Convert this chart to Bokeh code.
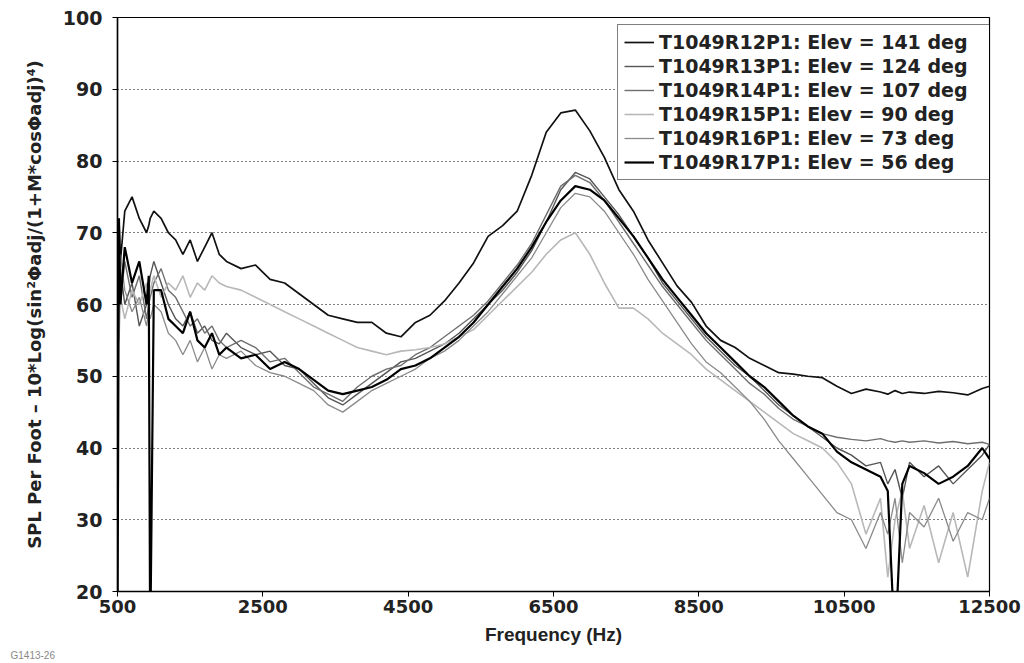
from bokeh.plotting import figure
from bokeh.models import Range1d, FixedTicker, Legend, LegendItem, Title, ColumnDataSource
from bokeh.embed import file_html
from bokeh.resources import INLINE

freq = [500, 520, 540, 600, 700, 800, 900, 930, 950, 1000,
        1100, 1200, 1300, 1400, 1500, 1600, 1700, 1800, 1900, 2000,
        2200, 2400, 2600, 2800, 3000, 3200, 3400, 3600, 3800, 4000,
        4200, 4400, 4600, 4800, 5000, 5200, 5400, 5600, 5800, 6000,
        6200, 6400, 6600, 6800, 7000, 7200, 7400, 7600, 7800, 8000,
        8200, 8400, 8600, 8800, 9000, 9200, 9400, 9600, 9800, 10000,
        10200, 10400, 10600, 10800, 11000, 11100, 11200, 11300, 11400, 11600,
        11800, 12000, 12200, 12400, 12500]

r12 = [68, 72, 66, 73, 75, 72, 70, 71, 72, 73,
       72, 70, 69, 67, 69, 66, 68, 70, 67, 66,
       65, 65.5, 63.5, 63, 61.5, 60, 58.5, 58, 57.5, 57.5,
       56, 55.5, 57.5, 58.5, 60.5, 63, 65.8, 69.5, 71, 73,
       78, 84, 86.7, 87.1, 84.2, 80.5, 76, 73, 69, 65.8,
       62.6, 60.3, 57, 55, 54, 52.5, 51.5, 50.5, 50.3, 50,
       49.8, 48.6, 47.6, 48.2, 47.8, 47.5, 48, 47.6, 47.8, 47.6,
       47.9, 47.7, 47.4, 48.3, 48.6]

r13 = [62, 58, 65, 60, 63, 57, 60, 62, 64, 66,
       63, 60, 58, 57, 59, 56, 57, 55, 54.5, 56,
       54, 53, 53.5, 51.5, 51, 49, 47, 46, 47.5, 49,
       50.5, 52, 52.5, 53.5, 54.5, 56, 58, 60, 62, 64.5,
       67.5, 71.5, 76, 78.4, 77.5, 75, 72.5, 69.5, 66.5, 63,
       60.5, 58, 55.5, 53.5, 51.5, 50, 48, 46, 44.5, 43,
       41.5, 40, 39, 37.5, 38, 35, 37, 33, 38, 36,
       37.5, 35, 37, 39, 40.5]

r14 = [58, 64, 60, 66, 61, 64, 58, 60, 61, 63,
       65, 62, 61, 59, 57, 58, 56, 57, 55, 54,
       55, 54, 52, 52.5, 50.5, 48.5, 47.5, 46.5, 48.5, 50,
       51, 51.5, 53, 54, 55.5, 57, 58.5, 60.5, 63, 65.5,
       68.5, 72.5, 76.5, 78, 77, 74.5, 71.5, 68.5, 65.5, 62.5,
       60, 57.5, 55, 53, 51, 49, 47.5, 45.5, 44, 43,
       42, 41.5, 41.2, 41, 41.3, 41, 40.8, 41, 40.8, 41,
       40.7, 40.9, 40.6, 40.8, 40.5]

r15 = [60, 55, 61, 58, 62, 60, 63, 61, 62, 64,
       61, 63, 62, 64, 61, 63, 62, 64, 63, 62.5,
       62, 61, 60, 59, 58, 57, 56, 55, 54, 53.5,
       53, 53.5, 53.7, 54, 54.5, 55.5, 56.5, 58.5, 60.5, 62.5,
       64.5, 67, 69, 70, 67, 63, 59.5, 59.5, 58, 56,
       54.5, 53, 51, 49.5, 48, 46.5, 45, 43.5, 42, 41,
       40, 38, 35, 28, 33, 22, 30, 34, 26, 32,
       24, 31, 22, 34, 38]

r16 = [65, 60, 67, 62, 59, 61, 57, 59, 58, 60,
       59, 56, 55, 53, 55, 52, 54, 51, 53, 52.5,
       53.5, 51.5, 50.5, 50, 49, 48, 46, 45, 46.5, 48,
       49, 50, 51, 52.5, 53.5, 55, 57, 59, 61.5, 64,
       66.5, 70, 73.5, 75.5, 75, 73, 70, 67, 63.5, 60.5,
       57.5, 54.5, 52, 50.5, 48.5, 46.5, 44, 41, 38.5, 36,
       33.5, 31, 30, 26, 31, 28, 33, 24, 31, 29,
       33, 27, 31, 30, 33]

r17 = [15, 72, 60, 68, 63, 66, 60, 64, 12, 62,
       62, 58, 57, 56, 59, 55, 54, 56, 53, 54,
       52.5, 53, 51, 52, 51, 49.5, 48, 47.5, 48, 48.5,
       49.5, 51, 51.5, 52.5, 54, 55.5, 57.5, 60, 62.5, 65,
       68, 71.5, 74.5, 76.5, 76, 74.5, 72, 69.5, 66.5, 63.5,
       61, 58.5, 56, 54, 52, 50, 48.5, 46.5, 44.5, 43,
       42, 39.5, 38, 37, 36, 34, 12, 35, 37.5, 36.5,
       35, 36, 37.5, 40, 38.5]

series_names = ["T1049R12P1: Elev = 141 deg", "T1049R13P1: Elev = 124 deg",
                "T1049R14P1: Elev = 107 deg", "T1049R15P1: Elev = 90 deg",
                "T1049R16P1: Elev = 73 deg", "T1049R17P1: Elev = 56 deg"]
x_ticks = [500, 2500, 4500, 6500, 8500, 10500, 12500]
y_ticks = [20, 30, 40, 50, 60, 70, 80, 90, 100]

source = ColumnDataSource(dict(freq=freq, r12=r12, r13=r13, r14=r14,
                               r15=r15, r16=r16, r17=r17))

SANS = "Liberation Sans"
WIDE = "DejaVu Sans"

p = figure(width=1024, height=663, output_backend="svg", toolbar_location=None,
           x_range=Range1d(500, 12500), y_range=Range1d(20, 100),
           min_border_left=117, min_border_right=35, min_border_top=17,
           min_border_bottom=72, background_fill_color="white",
           border_fill_color="white")
p.outline_line_color = "black"
p.outline_line_width = 1.2

styles = [("r12", "#111111", 1.7), ("r13", "#555555", 1.4), ("r14", "#6e6e6e", 1.4),
          ("r15", "#b8b8b8", 1.6), ("r16", "#8a8a8a", 1.3), ("r17", "#000000", 2.2)]
renderers = []
for col, color, w in styles:
    r = p.line("freq", col, source=source, line_color=color, line_width=w)
    renderers.append(r)

p.xaxis.ticker = FixedTicker(ticks=x_ticks)
p.yaxis.ticker = FixedTicker(ticks=y_ticks)
p.xgrid.grid_line_color = None
p.ygrid.grid_line_color = "black"
p.ygrid.grid_line_dash = "1 3"
p.ygrid.grid_line_width = 1

for ax in (p.xaxis[0], p.yaxis[0]):
    ax.axis_line_color = "black"
    ax.axis_line_width = 1.5
    ax.major_tick_line_color = "black"
    ax.major_tick_in = 0
    ax.major_tick_out = 5
    ax.minor_tick_line_color = None
    ax.major_label_text_font = WIDE
    ax.major_label_text_font_style = "bold"
    ax.major_label_text_color = "#222222"
    ax.axis_label_text_font_style = "bold"
    ax.axis_label_text_color = "#222222"

p.xaxis.axis_label = "Frequency (Hz)"
p.xaxis.axis_label_text_font = SANS
p.xaxis.major_label_text_font_size = "18px"
p.xaxis.axis_label_text_font_size = "19px"
p.xaxis.major_label_standoff = 3
p.xaxis.axis_label_standoff = 8

p.yaxis.axis_label = "SPL Per Foot \u2013 10*Log(sin\u00b2\u03a6adj/(1+M*cos\u03a6adj)\u2074)"
p.yaxis.axis_label_text_font = WIDE
p.yaxis.major_label_text_font_size = "19px"
p.yaxis.axis_label_text_font_size = "18px"
p.yaxis.major_label_standoff = 10
p.yaxis.axis_label_standoff = 15

items = [LegendItem(label=n, renderers=[r]) for n, r in zip(series_names, renderers)]
legend = Legend(items=items, location=(500, 411), label_text_font=WIDE,
                label_text_font_style="bold", label_text_font_size="19px",
                label_text_color="#222222", glyph_width=30, glyph_height=22,
                label_height=22, label_width=324, spacing=2, padding=6,
                label_standoff=5, border_line_color="black", border_line_width=1,
                background_fill_color="white", background_fill_alpha=1.0)
p.add_layout(legend, "center")

p.add_layout(Title(text="G1413-26", align="left", offset=-107, standoff=0,
                   text_font=SANS, text_font_size="10px", text_font_style="normal",
                   text_color="#888888"), "below")

open("out.html", "w").write(file_html(p, INLINE))
